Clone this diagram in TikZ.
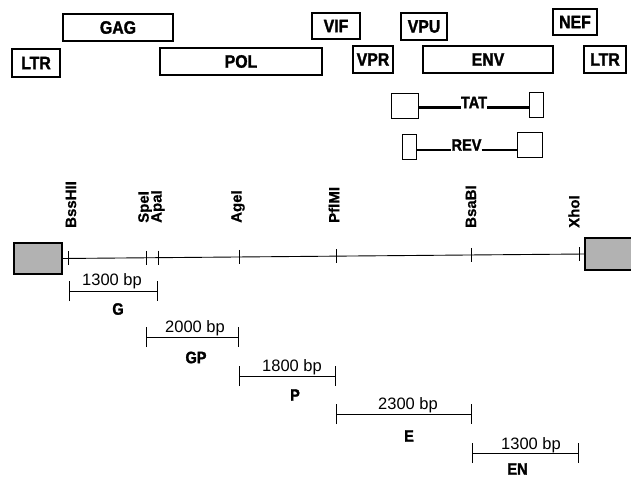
\documentclass[tikz,border=0pt]{standalone}
\usepackage{fontspec}
\setmainfont{Liberation Sans}
\newfontfamily\heavyfont[FakeStretch=0.88,FakeBold=1.6]{Liberation Sans Bold}
\newfontfamily\sitefont[FakeBold=0.6]{Liberation Sans Bold}
\usetikzlibrary{arrows.meta}
\begin{document}
\begin{tikzpicture}[x=1pt,y=-1pt,
 gene/.style={draw, line width=1.1pt, inner sep=0pt, font=\heavyfont\fontsize{18}{18}\selectfont},
 exon/.style={draw, line width=1pt, inner sep=0pt},
 splicelabel/.style={inner sep=0pt, font=\heavyfont\fontsize{16.5}{16.5}\selectfont},
 splice/.style={line width=2.6pt},
 endbox/.style={draw, line width=1.3pt, fill=gray!60, inner sep=0pt},
 mapline/.style={line width=0.9pt},
 tickmark/.style={line width=0.9pt},
 site/.style={rotate=90, anchor=west, inner sep=0pt, font=\sitefont\fontsize{15}{15}\selectfont},
 fragbar/.style={line width=1pt, {Bar[width=20pt,line width=1pt]}-{Bar[width=20pt,line width=1pt]}},
 sizelabel/.style={inner sep=0pt, font=\fontsize{16.5}{16.5}\selectfont},
 fraglabel/.style={inner sep=0pt, font=\heavyfont\fontsize{16.5}{16.5}\selectfont}
]
\useasboundingbox (0,0) rectangle (631,478);
% genome organisation
\node[gene, minimum width=110pt, minimum height=27pt] (gag) at (118,27.5) {GAG};
\node[gene, minimum width=48pt, minimum height=28pt] (ltrl) at (36,63) {LTR};
\node[gene, minimum width=162pt, minimum height=27pt] (pol) at (241,61.5) {POL};
\node[gene, minimum width=48pt, minimum height=26pt] (vif) at (336,26) {VIF};
\node[gene, minimum width=40pt, minimum height=27pt] (vpr) at (373,59.5) {VPR};
\node[gene, minimum width=46pt, minimum height=27pt] (vpu) at (424,26.5) {VPU};
\node[gene, minimum width=130pt, minimum height=27pt] (env) at (488,59.5) {ENV};
\node[gene, minimum width=44pt, minimum height=26pt] (nef) at (575,22) {NEF};
\node[gene, minimum width=42pt, minimum height=27pt] (ltrr) at (605,59.5) {LTR};
% TAT
\node[exon, minimum width=27pt, minimum height=25pt] (tatL) at (404.5,106.5) {};
\node[exon, minimum width=14pt, minimum height=25pt] (tatR) at (536,105.5) {};
\node[splicelabel] (tatT) at (474,102.5) {TAT};
\draw[splice] (tatL.east |- 0,107.5) -- (tatT.west |- 0,107.5);
\draw[splice] (tatT.east |- 0,107.5) -- (tatR.west |- 0,107.5);
% REV
\node[exon, minimum width=14pt, minimum height=25pt] (revL) at (409,147.5) {};
\node[exon, minimum width=25pt, minimum height=25pt] (revR) at (529.5,145.5) {};
\node[splicelabel] (revT) at (466.5,145) {REV};
\draw[splice] (revL.east |- 0,150) -- (revT.west |- 0,150);
\draw[splice] (revT.east |- 0,150) -- (revR.west |- 0,150);
% map
\node[endbox, minimum width=48pt, minimum height=31pt] (lbox) at (38,258.5) {};
\node[endbox, minimum width=54pt, minimum height=32pt] (rbox) at (612,254) {};
\draw[mapline] (lbox.east) -- (rbox.west);
\path (lbox.east) -- (rbox.west)
  coordinate[pos=0.0115] (tBss)
  coordinate[pos=0.1606] (tSpe)
  coordinate[pos=0.1836] (tApa)
  coordinate[pos=0.3384] (tAge)
  coordinate[pos=0.5239] (tPfl)
  coordinate[pos=0.7839] (tBsa)
  coordinate[pos=0.9904] (tXho);
\foreach \t in {tBss,tSpe,tApa,tAge,tPfl,tBsa,tXho}
  \draw[tickmark] ([yshift=7pt]\t) -- ([yshift=-7pt]\t);
\node[site] (lBss) at (71,228) {BssHII};
\node[site] (lSpe) at (145,223) {SpeI};
\node[site] (lApa) at (158,223) {ApaI};
\node[site] (lAge) at (238,223) {AgeI};
\node[site] (lPfl) at (334,223) {PflMI};
\node[site] (lBsa) at (471,228) {BsaBI};
\node[site] (lXho) at (574,228) {XhoI};
% fragments
\draw[fragbar] (tBss |- 0,291) -- (tApa |- 0,291);
\node[sizelabel] (sG) at (112,281) {1300 bp};
\node[fraglabel] (fG) at (118,309) {G};
\draw[fragbar] (tSpe |- 0,337) -- (tAge |- 0,337);
\node[sizelabel] (sGP) at (195,328) {2000 bp};
\node[fraglabel] (fGP) at (196,357.5) {GP};
\draw[fragbar] (tAge |- 0,376) -- (tPfl |- 0,376);
\node[sizelabel] (sP) at (292,367.5) {1800 bp};
\node[fraglabel] (fP) at (295,395) {P};
\draw[fragbar] (tPfl |- 0,414) -- (tBsa |- 0,414);
\node[sizelabel] (sE) at (408,405) {2300 bp};
\node[fraglabel] (fE) at (409,436) {E};
\draw[fragbar] (tBsa |- 0,453) -- (tXho |- 0,453);
\node[sizelabel] (sEN) at (531,445) {1300 bp};
\node[fraglabel] (fEN) at (517.5,469) {EN};
\end{tikzpicture}
\end{document}
